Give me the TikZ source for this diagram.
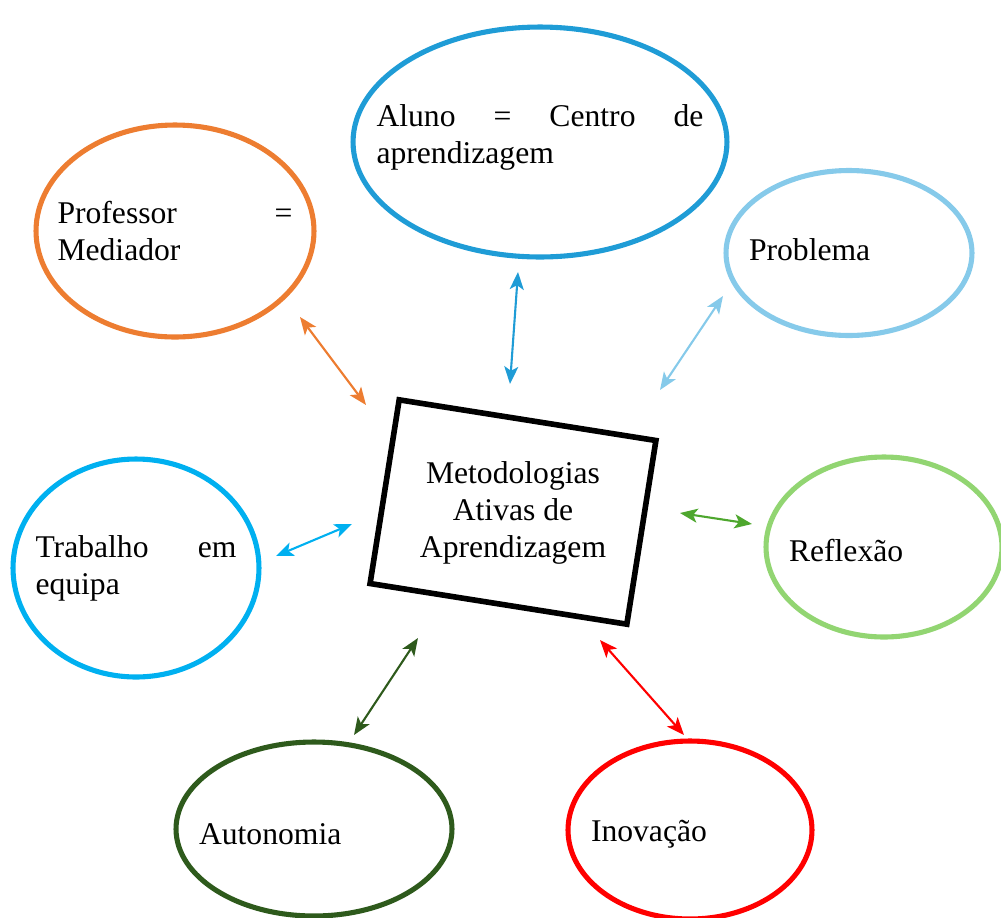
\documentclass[tikz,border=0pt]{standalone}
\usepackage{fontspec}
\setmainfont{Liberation Serif}
\usetikzlibrary{arrows.meta,shapes.geometric}

\definecolor{laranja}{HTML}{ED7D31}
\definecolor{azulescuro}{HTML}{1F9CD6}
\definecolor{azulclaro}{HTML}{86CAEA}
\definecolor{azulvivo}{HTML}{00B0F0}
\definecolor{verdeclaro}{HTML}{92D572}
\definecolor{verdeseta}{HTML}{4EA72E}
\definecolor{verdeescuro}{HTML}{2E5A1C}
\definecolor{vermelho}{HTML}{FF0000}

\begin{document}
\begin{tikzpicture}[x=0.02cm,y=-0.02cm,>={Stealth[length=10pt,width=8pt,inset=2.5pt]},
  bolha/.style={ellipse,draw,line width=2.9pt,inner sep=0pt},
  rotulo/.style={inner sep=0pt,align=left,font=\fontsize{18}{21}\selectfont},
  seta/.style={<->,line width=1.2pt}]
  \useasboundingbox (0,0) rectangle (1001,917);

  % central box
  \node[draw,line width=3.2pt,rotate=-9,minimum width=5.2cm,minimum height=3.72cm] (mab) at (513,512) {};
  \node[align=center,inner sep=0pt,font=\fontsize{18}{21}\selectfont] (mabtxt) at (513,513)
    {Metodologias\\Ativas de\\Aprendizagem};

  % ellipses
  \node[bolha,laranja,minimum width=5.56cm,minimum height=4.24cm] (prof) at (175,231) {};
  \node[bolha,azulescuro,minimum width=7.48cm,minimum height=4.6cm] (aluno) at (540,142) {};
  \node[bolha,azulclaro,minimum width=4.92cm,minimum height=3.3cm] (prob) at (849,253) {};
  \node[bolha,verdeclaro,minimum width=4.72cm,minimum height=3.6cm] (refl) at (884,547) {};
  \node[bolha,vermelho,minimum width=4.88cm,minimum height=3.56cm] (inov) at (690,830) {};
  \node[bolha,verdeescuro,minimum width=5.52cm,minimum height=3.48cm] (auto) at (314,829) {};
  \node[bolha,azulvivo,minimum width=4.92cm,minimum height=4.36cm] (trab) at (136,568) {};

  % texts
  \node[rotulo,text width=4.7cm] (proftxt) at (175,231) {\makebox[\hsize][s]{Professor\hfill=}\\Mediador};
  \node[rotulo,text width=6.54cm] (alunotxt) at (540,137) {\makebox[\hsize][s]{Aluno\hfill=\hfill Centro\hfill de}\\aprendizagem};
  \node[rotulo,text width=4.0cm] (probtxt) at (849,250) {Problema};
  \node[rotulo,text width=3.8cm] (refltxt) at (884,551) {Reflexão};
  \node[rotulo,text width=3.96cm] (inovtxt) at (690,834) {Inovação};
  \node[rotulo,text width=4.6cm] (autotxt) at (314,834) {Autonomia};
  \node[rotulo,text width=4.02cm] (trabtxt) at (136,568) {\makebox[\hsize][s]{Trabalho\hfill em}\\equipa};

  % arrow ends
  \coordinate (p1) at (300,317); \coordinate (p2) at (366,405);
  \coordinate (a1) at (518,272); \coordinate (a2) at (510,384);
  \coordinate (b1) at (723,296); \coordinate (b2) at (660,390);
  \coordinate (r1) at (680,513); \coordinate (r2) at (752,524);
  \coordinate (i1) at (600,640); \coordinate (i2) at (684,735);
  \coordinate (u1) at (418,638); \coordinate (u2) at (354,735);
  \coordinate (t1) at (276,556); \coordinate (t2) at (352,524);

  \draw[seta,laranja] (p1) -- (p2);
  \draw[seta,azulescuro] (a1) -- (a2);
  \draw[seta,azulclaro] (b1) -- (b2);
  \draw[seta,verdeseta] (r1) -- (r2);
  \draw[seta,vermelho] (i1) -- (i2);
  \draw[seta,verdeescuro] (u1) -- (u2);
  \draw[seta,azulvivo] (t1) -- (t2);
\end{tikzpicture}
\end{document}
